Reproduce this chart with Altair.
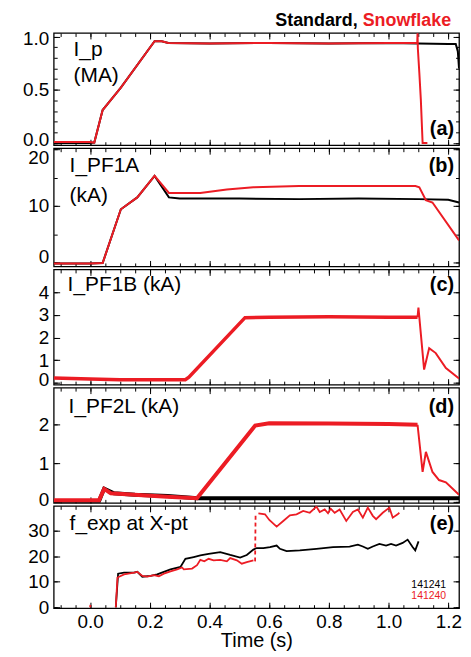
import altair as alt
import pandas as pd

FONT = "Liberation Sans"
RED = "#ec1c24"
BLACK = "#000000"
PLOT_W = 408

X_DOMAIN = [-0.122, 1.236]
X_MAJOR = [0.0, 0.2, 0.4, 0.6, 0.8, 1.0, 1.2]
X_MINOR = [-0.10, -0.05, 0.00, 0.05, 0.10, 0.15, 0.20, 0.25, 0.30, 0.35, 0.40,
           0.45, 0.50, 0.55, 0.60, 0.65, 0.70, 0.75, 0.80, 0.85, 0.90, 0.95,
           1.00, 1.05, 1.10, 1.15, 1.20]

# (a) I_p (MA)
IP_STD_T = [-0.122, -0.003, 0.014, 0.042, 0.103, 0.216, 0.24, 0.262, 0.40, 0.60, 0.80, 1.00, 1.10, 1.20, 1.225, 1.232, 1.236]
IP_STD_V = [0.0, 0.0, 0.005, 0.31, 0.52, 0.955, 0.955, 0.94, 0.935, 0.94, 0.935, 0.94, 0.935, 0.93, 0.93, 0.86, 0.70]
IP_SF_T = [-0.122, -0.003, 0.014, 0.042, 0.103, 0.216, 0.24, 0.262, 0.40, 0.60, 0.80, 1.00, 1.092, 1.096, 1.097, 1.098, 1.103, 1.108, 1.114, 1.13]
IP_SF_V = [0.01, 0.01, 0.005, 0.31, 0.52, 0.955, 0.955, 0.94, 0.935, 0.94, 0.935, 0.94, 0.94, 0.94, 1.03, 0.89, 0.66, 0.41, 0.0, 0.0]

# (b) I_PF1A (kA)
PF1A_STD_T = [-0.122, 0.0, 0.042, 0.103, 0.158, 0.216, 0.264, 0.30, 0.50, 0.70, 0.90, 1.10, 1.20, 1.236]
PF1A_STD_V = [-0.2, -0.2, -0.1, 9.4, 11.5, 15.3, 11.5, 11.3, 11.3, 11.2, 11.3, 11.2, 11.1, 10.6]
PF1A_SF_T = [-0.122, 0.0, 0.042, 0.103, 0.158, 0.216, 0.264, 0.369, 0.458, 0.547, 0.70, 0.90, 1.09, 1.103, 1.125, 1.147, 1.236]
PF1A_SF_V = [-0.2, -0.2, -0.1, 9.4, 11.5, 15.3, 12.3, 12.3, 12.9, 13.3, 13.5, 13.5, 13.5, 13.3, 11.0, 10.6, 3.9]

# (c) I_PF1B (kA)
PF1B_SF_T = [-0.122, 0.0, 0.10, 0.20, 0.319, 0.331, 0.519, 0.60, 0.80, 1.00, 1.097]
PF1B_SF_V = [0.2, 0.16, 0.13, 0.13, 0.13, 0.24, 2.88, 2.9, 2.92, 2.9, 2.9]
PF1B_SF_TAIL_T = [1.097, 1.100, 1.119, 1.136, 1.158, 1.192, 1.236]
PF1B_SF_TAIL_V = [2.9, 3.33, 0.58, 1.53, 1.31, 0.65, 0.18]

# (d) I_PF2L (kA)
PF2L_STD_T = [-0.122, 0.030, 0.047, 0.08, 0.15, 0.26, 0.36, 0.60, 0.90, 1.236]
PF2L_STD_V = [0.03, 0.03, 0.35, 0.23, 0.19, 0.16, 0.10, 0.10, 0.10, 0.10]
PF2L_SF_T = [-0.122, 0.030, 0.047, 0.069, 0.148, 0.258, 0.358, 0.553, 0.60, 0.80, 1.00, 1.097]
PF2L_SF_V = [0.05, 0.05, 0.34, 0.23, 0.19, 0.14, 0.10, 1.98, 2.04, 2.03, 2.02, 2.0]
PF2L_SF_TAIL_T = [1.097, 1.114, 1.125, 1.147, 1.169, 1.192, 1.236]
PF2L_SF_TAIL_V = [2.0, 0.78, 1.30, 0.78, 0.57, 0.51, 0.19]

# (e) f_exp at X-pt
FX_STD_T = [0.086, 0.0938, 0.1138, 0.1471, 0.1582, 0.1749, 0.2027, 0.2249, 0.2471, 0.2693, 0.3027, 0.3193,
            0.3471, 0.3693, 0.3971, 0.436, 0.4693, 0.5027, 0.5249, 0.5471, 0.5582, 0.5804, 0.6027, 0.6249,
            0.636, 0.6582, 0.7027, 0.7582, 0.8138, 0.8693, 0.8971, 0.9138, 0.9304, 0.9471, 0.9693, 0.9916,
            1.0082, 1.0249, 1.0471, 1.0638, 1.0804, 1.0893, 1.1004]
FX_STD_V = [0.0, 13.2, 13.6, 13.6, 13.9, 12.0, 12.3, 12.9, 13.9, 14.9, 15.8, 19.0,
            19.7, 20.3, 20.9, 21.6, 20.5, 19.5, 20.5, 22.6, 23.2, 23.2, 23.6, 24.2,
            22.9, 22.0, 22.3, 22.9, 23.6, 23.8, 24.5, 23.8, 22.9, 23.8, 24.8, 24.2,
            24.8, 24.2, 25.2, 26.5, 23.6, 22.3, 25.8]
FX_SF_LOW_T = [0.086, 0.0916, 0.1138, 0.1471, 0.1582, 0.1749, 0.1916, 0.2138, 0.2304, 0.2471, 0.2693,
               0.2916, 0.3082, 0.3138, 0.3416, 0.3582, 0.3693, 0.3827, 0.3971, 0.4138, 0.436, 0.4582,
               0.4693, 0.4916, 0.5082, 0.5249, 0.5471]
FX_SF_LOW_V = [0.0, 11.7, 12.9, 13.6, 13.9, 12.3, 12.0, 12.6, 12.2, 13.2, 14.1,
               14.9, 15.6, 14.9, 15.2, 16.5, 18.6, 18.0, 19.0, 18.4, 18.6, 18.0,
               19.3, 18.4, 17.1, 17.7, 18.4]
FX_SF_JUMP_T = [0.5527, 0.5545]
FX_SF_JUMP_V = [18.0, 37.0]
FX_SF_HIGH_T = [0.5638, 0.586, 0.6004, 0.6249, 0.6471, 0.6693, 0.6916, 0.7138, 0.736, 0.7582, 0.7693,
                0.786, 0.7971, 0.806, 0.8193, 0.836, 0.8582, 0.8804, 0.8971, 0.9138, 0.9304, 0.9471,
                0.9582, 0.9804, 1.0027, 1.0138, 1.0304, 1.036]
FX_SF_HIGH_V = [36.8, 36.4, 34.2, 31.6, 33.8, 36.0, 36.4, 37.7, 37.0, 39.4, 37.3,
                38.3, 36.8, 38.6, 37.0, 38.3, 33.8, 37.3, 38.3, 35.1, 39.0, 35.8,
                34.5, 37.0, 39.0, 35.1, 36.4, 37.0]
FX_SF_DOT_T = [0.0, 0.001]
FX_SF_DOT_V = [0.0, 1.0]

SHOTS = ["141241", "141240"]
SHOT_COLORS = [BLACK, RED]


def xscale():
    return alt.Scale(domain=X_DOMAIN, nice=False, zero=False)


def yscale(dom):
    return alt.Scale(domain=dom, nice=False, zero=False)


def line(t, v, color, width, ydom, dash=None):
    df = pd.DataFrame({"t": t, "v": v, "i": list(range(len(t)))})
    kw = dict(color=color, strokeWidth=width, clip=True)
    if dash is not None:
        kw["strokeDash"] = dash
    return alt.Chart(df).mark_line(**kw).encode(
        x=alt.X("t:Q", scale=xscale(), axis=None),
        y=alt.Y("v:Q", scale=yscale(ydom), axis=None),
        order="i:Q",
    )


def axis_carrier(ydom, xaxis, yaxis):
    df = pd.DataFrame({"t": [X_DOMAIN[0]], "v": [ydom[0]]})
    return alt.Chart(df).mark_point(opacity=0, size=1, clip=True).encode(
        x=alt.X("t:Q", scale=xscale(), axis=xaxis),
        y=alt.Y("v:Q", scale=yscale(ydom), axis=yaxis),
    )


def ax(orient, values, size, labels=False, fmt=None, title=None, shifts=None, pad=5):
    kw = dict(orient=orient, values=values, tickSize=size, offset=-size,
              domain=False, grid=False, labels=labels, tickColor="black",
              tickWidth=1, title=title, labelFlush=False, labelOverlap=False)
    if fmt is not None:
        kw["format"] = fmt
    if labels:
        kw.update(labelFont=FONT, labelFontSize=19, labelColor="black", labelPadding=pad)
    if shifts:
        conds = [{"test": "datum.value == %s" % k, "value": s} for k, s in shifts.items()]
        kw["labelOffset"] = {"condition": conds, "value": 0}
    if title is not None:
        kw.update(titleFont=FONT, titleFontSize=20, titleFontWeight="normal",
                  titleColor="black", titlePadding=0)
    return alt.Axis(**kw)


def text_layer(texts, xs, ys, colors, size=21, bold=False, align="left"):
    df = pd.DataFrame({"txt": texts, "c": colors})
    layers = []
    for k in range(len(texts)):
        layers.append(
            alt.Chart(df.iloc[[k]]).mark_text(
                font=FONT, fontSize=size, fontWeight="bold" if bold else "normal",
                align=align, baseline="middle", color=colors[k]
            ).encode(text="txt:N", x=alt.value(xs[k]), y=alt.value(ys[k]))
        )
    return layers


def panel(ydom, ymajor, yminor, yfmt, height, lines, texts, last=False, shifts=None):
    xmajor_bottom = ax("bottom", X_MAJOR, 6, labels=last, fmt=".1f",
                       title="Time (s)" if last else None, pad=4)
    layers = [
        axis_carrier(ydom, xmajor_bottom, ax("left", ymajor, 6, labels=True, fmt=yfmt, shifts=shifts)),
        axis_carrier(ydom, ax("bottom", X_MINOR, 3.5), ax("left", yminor, 3.5)),
        axis_carrier(ydom, ax("top", X_MAJOR, 6), ax("right", ymajor, 6)),
        axis_carrier(ydom, ax("top", X_MINOR, 3.5), ax("right", yminor, 3.5)),
    ]
    layers += lines
    layers += texts
    return alt.layer(*layers).resolve_axis(x="independent", y="independent").properties(
        width=PLOT_W, height=height)


# panel a
DA = [-0.02, 1.033]
pa = panel(
    DA, [0.0, 0.5, 1.0], [0.0, 0.1, 0.2, 0.3, 0.4, 0.5, 0.6, 0.7, 0.8, 0.9, 1.0], ".1f", 113,
    [line(IP_STD_T, IP_STD_V, BLACK, 2, DA), line(IP_SF_T, IP_SF_V, RED, 2, DA)],
    text_layer(["I_p", "(MA)"], [20, 20], [17, 43], [BLACK, BLACK])
    + text_layer(["(a)"], [403], [97], [BLACK], size=20, bold=True, align="right")
    + text_layer(["Standard,", "Snowflake"], [306, 400], [-12, -12], [BLACK, RED], size=18, bold=True, align="right"),
    shifts={0: -4, 1: 2},
)

DB = [-0.7, 20.2]
pb = panel(
    DB, [0, 10, 20], [0, 5, 10, 15, 20], "d", 119,
    [line(PF1A_STD_T, PF1A_STD_V, BLACK, 2, DB), line(PF1A_SF_T, PF1A_SF_V, RED, 2, DB)],
    text_layer(["I_PF1A", "(kA)"], [16, 16], [18, 48], [BLACK, BLACK])
    + text_layer(["(b)"], [403], [18], [BLACK], size=20, bold=True, align="right"),
    shifts={0: -6, 20: 8},
)

DC = [-0.09, 5.02]
pc = panel(
    DC, [0, 1, 2, 3, 4], [0, 1, 2, 3, 4], "d", 116,
    [line(PF1B_SF_T, PF1B_SF_V, RED, 3.5, DC), line(PF1B_SF_TAIL_T, PF1B_SF_TAIL_V, RED, 2, DC)],
    text_layer(["I_PF1B (kA)"], [14], [16], [BLACK])
    + text_layer(["(c)"], [403], [16], [BLACK], size=20, bold=True, align="right"),
    shifts={0: -3},
)

DD = [-0.02, 2.96]
pd_ = panel(
    DD, [0, 1, 2], [0, 1, 2], "d", 116,
    [line(PF2L_STD_T, PF2L_STD_V, BLACK, 4, DD), line(PF2L_SF_T, PF2L_SF_V, RED, 4, DD),
     line(PF2L_SF_TAIL_T, PF2L_SF_TAIL_V, RED, 2, DD)],
    text_layer(["I_PF2L (kA)"], [15], [20], [BLACK])
    + text_layer(["(d)"], [403], [20], [BLACK], size=20, bold=True, align="right"),
    shifts={0: -3},
)

DE = [-0.3, 39.7]
pe = panel(
    DE, [0, 10, 20, 30], [0, 10, 20, 30], "d", 103,
    [line(FX_STD_T, FX_STD_V, BLACK, 1.8, DE), line(FX_SF_LOW_T, FX_SF_LOW_V, RED, 1.8, DE),
     line(FX_SF_JUMP_T, FX_SF_JUMP_V, RED, 1.8, DE, dash=[4, 3]),
     line(FX_SF_HIGH_T, FX_SF_HIGH_V, RED, 1.8, DE), line(FX_SF_DOT_T, FX_SF_DOT_V, RED, 1.8, DE)],
    text_layer(["f_exp at X-pt"], [16], [18], [BLACK])
    + text_layer(["(e)"], [403], [18], [BLACK], size=20, bold=True, align="right")
    + text_layer(SHOTS, [377.5, 377.5], [80, 91], SHOT_COLORS, size=10.5, align="center"),
    last=True,
)

chart = alt.vconcat(pa, pb, pc, pd_, pe, spacing=3, bounds="flush").properties(
    padding={"left": 13, "top": 1, "right": 0, "bottom": 2}
).configure_view(stroke="black", strokeWidth=1.3)

chart.save("out.html", embed_options={"renderer": "svg", "actions": False})
